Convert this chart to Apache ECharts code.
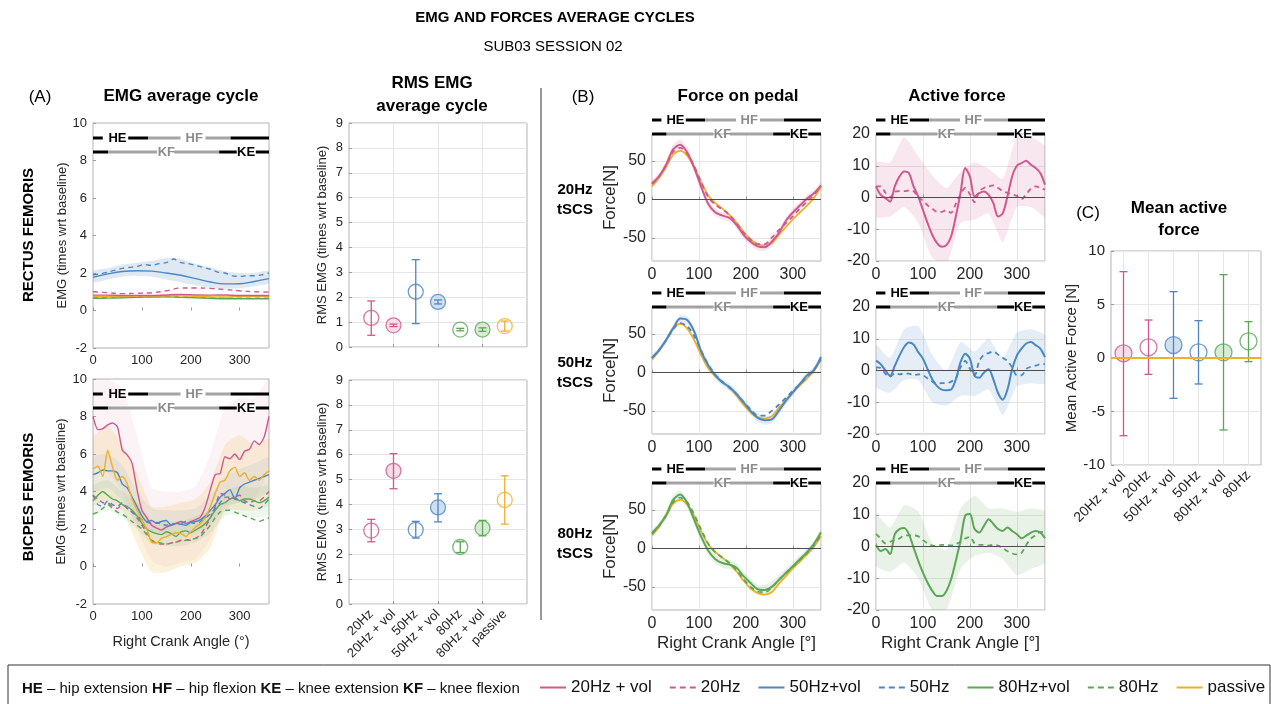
<!DOCTYPE html>
<html>
<head>
<meta charset="utf-8">
<title>EMG and forces average cycles</title>
<script src="https://cdn.jsdelivr.net/npm/echarts@6/dist/echarts.min.js"></script>
<style>html,body{margin:0;padding:0;background:#fff}#main{width:1271px;height:704px}</style>
</head>
<body>
<div id="main"></div>
<script>
// ---------- data ----------
var ANG10 = [0,10,20,30,40,50,60,70,80,90,100,110,120,130,140,150,160,170,180,190,200,210,220,230,240,250,260,270,280,290,300,310,320,330,340,350,360];
var ANG15 = [0,15,30,45,60,75,90,105,120,135,150,165,180,195,210,225,240,255,270,285,300,315,330,345,360];
var ANG30 = [0,30,60,90,120,150,180,210,240,270,300,330,360];

// rectus femoris EMG (ANG30, RF_50 on ANG15)
var RF_20VOL = [0.82,0.82,0.80,0.80,0.80,0.83,0.85,0.83,0.82,0.83,0.80,0.80,0.80];
var RF_20 = [1.00,0.95,0.90,0.92,0.95,1.05,1.20,1.20,1.18,1.12,1.05,1.00,0.98];
var RF_50VOL = [1.77,1.95,2.08,2.12,2.10,2.00,1.88,1.70,1.52,1.42,1.43,1.55,1.70];
var RF_50 = [1.90,1.95,2.05,2.15,2.25,2.30,2.35,2.45,2.40,2.50,2.55,2.75,2.55,2.50,2.40,2.30,2.20,2.05,2.00,1.85,1.82,1.85,1.85,1.90,2.00];
var RF_80VOL = [0.65,0.66,0.68,0.70,0.72,0.73,0.70,0.68,0.65,0.63,0.63,0.63,0.63];
var RF_80 = [0.68,0.70,0.70,0.72,0.75,0.75,0.73,0.70,0.68,0.66,0.65,0.66,0.66];
var RF_PASSIVE = [0.75,0.75,0.75,0.77,0.77,0.78,0.78,0.75,0.73,0.72,0.75,0.75,0.75];
var RF_50VOL_LO = [1.50,1.65,1.80,1.85,1.80,1.65,1.50,1.35,1.20,1.15,1.20,1.30,1.45];
var RF_50VOL_HI = [2.10,2.25,2.45,2.55,2.65,2.80,2.75,2.50,2.30,2.10,2.00,2.00,2.10];

// biceps femoris EMG (ANG10)
var BF_20VOL = [8.0,7.3,7.35,7.55,7.65,7.45,6.2,5.95,5.5,4.1,3.0,2.6,2.2,2.05,1.95,2.1,2.2,2.3,2.4,2.3,2.4,2.5,2.65,3.2,4.1,4.9,4.95,5.85,5.75,6.0,5.7,6.15,6.25,6.7,6.5,6.9,8.0];
var BF_20 = [3.8,3.6,3.4,3.4,3.2,3.1,3.3,3.1,2.9,2.6,2.2,1.8,1.4,1.25,1.2,1.2,1.25,1.3,1.4,1.4,1.4,1.5,1.7,2.1,2.6,3.2,3.9,3.8,3.6,3.7,3.8,3.5,3.4,3.5,3.5,3.7,4.0];
var BF_50VOL = [4.9,5.0,5.15,5.1,5.1,5.0,4.4,4.2,3.7,3.2,2.7,2.4,2.45,2.3,2.4,2.45,2.2,2.3,2.25,2.2,2.35,2.4,2.5,2.7,3.0,3.3,3.7,3.9,4.1,3.6,4.2,4.4,4.5,4.6,4.7,4.8,4.9];
var BF_50 = [3.8,3.3,3.2,3.5,3.3,3.2,3.4,3.1,2.9,2.7,2.5,2.35,2.3,2.35,2.25,2.2,2.25,2.3,2.3,2.4,2.35,2.3,2.4,2.6,2.8,3.1,3.4,3.7,3.7,3.6,3.5,3.4,3.3,3.2,3.1,3.3,3.6];
var BF_80VOL = [3.5,3.8,4.0,3.8,3.6,3.5,3.3,3.2,3.0,2.7,2.3,2.0,1.85,1.75,1.7,1.85,1.75,1.6,1.85,1.9,1.8,1.95,2.1,2.3,2.6,3.0,3.3,3.4,3.6,3.7,3.5,3.6,3.6,3.5,3.4,3.5,3.7];
var BF_80 = [2.8,2.9,3.1,3.3,3.1,2.9,2.8,2.6,2.4,2.2,2.0,1.7,1.4,1.3,1.25,1.2,1.25,1.3,1.35,1.4,1.45,1.5,1.6,1.9,2.2,2.6,2.9,3.0,3.0,2.9,2.8,2.7,2.6,2.5,2.4,2.5,2.6];
var BF_PASSIVE = [5.2,5.35,4.8,6.2,5.3,4.6,4.8,4.4,3.6,3.0,2.5,2.0,1.3,1.25,1.5,1.6,1.7,1.8,1.75,1.6,1.85,2.1,2.3,2.6,3.2,3.9,4.5,4.6,5.1,5.3,4.8,5.0,4.6,4.8,4.6,4.9,5.1];
// shaded bands (ANG30)
var BF_20VOL_LO = [5.5,5.0,4.0,2.0,0.3,0.0,0.2,0.4,1.5,3.0,3.5,3.5,5.5];
var BF_20VOL_HI = [10,10,9.5,7.0,4.2,4.0,4.0,4.3,6.0,8.5,9.0,9.0,10];
var BF_PASSIVE_LO = [3.3,3.5,3.0,1.2,-0.3,-0.3,0.0,0.2,1.0,3.0,3.0,3.0,3.3];
var BF_PASSIVE_HI = [6.8,7.5,6.5,5.0,3.2,3.2,3.4,3.6,4.5,6.5,7.0,6.5,6.8];
var BF_50VOL_LO = [4.0,4.2,3.5,2.3,1.8,1.7,1.7,1.8,2.2,3.2,3.4,3.6,4.0];
var BF_50VOL_HI = [5.8,6.0,5.4,4.0,3.1,3.0,3.0,3.1,3.8,4.8,5.2,5.5,5.8];
var BF_80VOL_LO = [2.8,3.0,2.6,2.0,1.2,1.1,1.1,1.3,1.8,2.7,2.8,2.6,2.8];
var BF_80VOL_HI = [4.3,4.6,4.0,3.4,2.5,2.4,2.4,2.7,3.0,4.0,4.3,4.2,4.3];

// RMS EMG
var RMS_LABELS = ['20Hz','20Hz + vol','50Hz','50Hz + vol','80Hz','80Hz + vol','passive'];
var RMS_POS = [1,2,3,4,5,6,7];
var RMS_RF = [1.17,0.87,2.22,1.81,0.70,0.70,0.84];
var RMS_RF_LO = [0.47,0.82,0.94,1.73,0.65,0.63,0.64];
var RMS_RF_HI = [1.85,0.92,3.51,1.89,0.75,0.77,1.04];
var RMS_BF = [2.95,5.35,2.98,3.88,2.29,3.05,4.18];
var RMS_BF_LO = [2.50,4.63,2.65,3.30,2.07,2.74,3.21];
var RMS_BF_HI = [3.40,6.04,3.32,4.43,2.50,3.36,5.15];

// force on pedal (ANG15)
var F_PASSIVE = [17,28,42,58,63,57,42,22,5,-5,-12,-20,-30,-42,-52,-58,-60,-57,-46,-36,-26,-17,-8,2,16];
var F20_VOL = [21,30,45,65,71,61,41,16,-6,-17,-21,-24,-33,-46,-55,-61,-62,-55,-44,-28,-17,-8,1,8,18];
var F20 = [20,30,44,62,67,60,43,22,3,-7,-13,-20,-31,-43,-52,-58,-58,-50,-40,-31,-22,-12,-3,6,18];
var F20_SD = [4,4,5,6,7,7,6,6,5,5,5,5,5,5,5,5,5,6,6,5,5,5,5,5,5];
var F50_VOL = [19,29,42,57,70,68,53,27,9,-4,-13,-19,-28,-39,-50,-59,-62,-61,-50,-37,-26,-15,-4,3,20];
var F50 = [19,29,42,56,64,60,47,28,10,-3,-12,-20,-28,-38,-48,-56,-56,-50,-42,-33,-24,-15,-6,4,17];
var F50_SD = [4,4,4,5,5,5,5,5,5,5,5,5,5,5,5,5,6,5,5,5,5,4,4,4,4];
var F80_VOL = [20,30,43,63,70,59,37,15,-3,-14,-19,-21,-25,-36,-45,-53,-54,-50,-41,-32,-23,-14,-5,6,21];
var F80 = [19,29,43,60,66,60,44,24,6,-5,-12,-19,-28,-40,-50,-56,-57,-51,-41,-32,-24,-15,-6,4,18];
var F80_SD = [4,4,5,6,6,6,6,6,6,6,6,6,6,6,6,6,7,7,6,6,5,5,5,4,4];

// active force (ANG10), bands on ANG30
var A20_VOL = [3.5,0.8,-0.2,-1.3,3.5,6.6,8.2,7.7,3.5,0.3,-3.9,-8.1,-11.8,-14.4,-15.5,-15.0,-12.3,-6.0,1.4,9.3,6.6,0.3,1.4,1.9,0.8,-1.8,-6.0,-5.0,0.3,6.6,10.0,10.8,11.6,10.3,9.3,7.7,4.0];
var A20 = [3.5,3.5,1.5,0,1.8,2.0,2.0,2.2,2.0,0,-1.0,-2.5,-3.5,-4.5,-4.5,-4.0,-4.8,-2.0,1.0,3.0,1.0,-1.5,2.0,3.0,3.5,3.8,3.0,2.0,1.5,1.0,0.5,-0.5,1.0,2.8,3.5,3.0,2.5];
var A20_LO = [-6,-6,-3,-8,-19,-21,-8,-7,-5,-14,-3,-3,-6];
var A20_HI = [11,11,19,13,7,3,8,11,9,6,19,19,16];
var A50_VOL = [3.1,2.0,0,-1.7,1.5,4.7,7.4,8.8,8.2,5.8,3.7,0.4,-2.8,-4.9,-6.0,-6.2,-6.0,-2.8,2.6,5.3,3.7,-1.7,-2.3,-0.6,0.4,-2.8,-7.1,-9.2,-6.0,0.4,4.7,6.9,8.5,9.0,8.0,6.9,4.2];
var A50 = [1.0,0.8,-1.0,-2.0,-0.8,-1.2,-1.0,-1.0,-1.5,-1.2,-1.5,-2.5,-3.5,-4.2,-4.0,-4.0,-3.5,-2.5,1.0,3.0,0.5,-1.5,3.0,5.0,5.5,6.0,5.0,4.0,3.0,1.0,-1.5,-1.5,0.5,1.2,1.5,2.0,2.0];
var A50_LO = [-5,-7,-3,-3,-10,-11,-8,-8,-6,-14,-5,-4,-4];
var A50_HI = [8,4,13,14,5,0,9,6,10,4,12,13,11];
var A80_VOL = [0.5,-1.4,-0.8,-2.4,3.9,5.5,5.8,3.9,-0.3,-4.5,-8.2,-11.4,-14.0,-15.6,-15.6,-14.0,-10.3,-4.5,1.8,9.7,10.2,5.5,4.4,6.5,8.6,7.1,5.5,4.9,6.0,4.9,3.9,2.6,3.4,4.4,4.9,4.4,2.6];
var A80 = [4.0,2.5,1.0,1.5,2.0,2.5,3.5,3.5,3.5,3.2,2.0,1.0,0.3,0.2,0.5,0.5,0.3,0.8,1.5,2.5,3.0,1.0,0.5,0.5,0.3,0.5,0.3,-0.5,-1.5,-2.2,-2.5,-2.0,0.5,2.5,3.5,4.5,4.5];
var A80_LO = [-6,-8,-5,-10,-20,-20,-7,-3,-2,-4,-9,-7,-5];
var A80_HI = [10,6,13,11,1,-1,12,16,12,12,11,12,11];

// mean active force
var MAF_LABELS = ['20Hz + vol','20Hz','50Hz + vol','50Hz','80Hz + vol','80Hz'];
var MAF_POS = [1,2,3,4,5,6];
var MAF = [0.44,1.00,1.21,0.53,0.53,1.56];
var MAF_LO = [-7.26,-1.53,-3.77,-2.43,-6.73,-0.34];
var MAF_HI = [8.07,3.55,6.20,3.49,7.79,3.40];
var MAF_PASSIVE = 0;

// gait phase bars (degrees)
var HIP_BLACK = [[0,20],[72,113],[281,360]];
var HIP_GRAY = [[113,179],[230,281]];
var KNEE_BLACK = [[0,31],[258,294],[333,360]];
var KNEE_GRAY = [[31,131],[166,258]];
var PHASE_LABELS = [['HE',50,1,0],['HF',207,1,1],['KF',150,0,1],['KE',313,0,0]];

var LEGEND_NAMES = ['20Hz + vol','20Hz','50Hz+vol','50Hz','80Hz+vol','80Hz','passive'];
var LEGEND_DASHED = [0,1,0,1,0,1,0];

// ---------- styling ----------
var FONT = "'Liberation Sans', Arial, Helvetica, sans-serif";
var NARROW = "'Liberation Sans Narrow', 'Liberation Sans', Arial, sans-serif";
var PINK = '#d0588b', BLUE = '#4a87c3', GREEN = '#5ca656', YELLOW = '#efb025';
var FILLS = {};
FILLS[PINK] = '#f3d6e2'; FILLS[BLUE] = '#c4d8ec'; FILLS[GREEN] = '#d0e6cd';
var DASH = [5, 4];
var ICON_SOLID = 'path://M0,0h26v2h-26z';
var ICON_DASH = 'path://M0,0h6v2h-6z M10,0h6v2h-6z M20,0h6v2h-6z';

var myChart = echarts.init(document.getElementById('main'));
var grid = [], xAxis = [], yAxis = [], series = [];

function addPanel(box, xa, ya) {
  var i = grid.length;
  box.show = true; box.borderColor = '#b3b3b3'; box.borderWidth = 1; box.backgroundColor = 'transparent';
  grid.push(box);
  xa.gridIndex = i; ya.gridIndex = i;
  xAxis.push(xa); yAxis.push(ya);
  return i;
}
function hiddenPanel(box, xa, ya) {
  var i = grid.length;
  grid.push(box);
  xa.gridIndex = i; ya.gridIndex = i;
  xAxis.push(xa); yAxis.push(ya);
  return i;
}
function mkAxis(min, max, interval, fs, showGrid, showLabel, custom) {
  var a = {type: 'value', min: min, max: max,
    axisLine: {show: false},
    axisTick: {show: true, inside: true, length: 3, lineStyle: {color: '#9a9a9a'}},
    axisLabel: {show: showLabel, color: '#262626', fontSize: fs, fontFamily: FONT, margin: 6},
    splitLine: {show: showGrid, lineStyle: {color: '#e6e6e6', width: 1}},
    nameLocation: 'middle',
    nameTextStyle: {color: '#262626', fontFamily: FONT, fontSize: 13}};
  if (interval) a.interval = interval;
  if (custom) { a.axisLabel.customValues = custom; a.axisTick.customValues = custom; }
  return a;
}
function angleAxis(fs, showGrid) {
  var a = mkAxis(0, 360, 100, fs, showGrid, true);
  a.axisLabel.showMaxLabel = false;
  return a;
}
function pairs(xs, ys) { return xs.map(function (x, i) { return [x, ys[i]]; }); }

function addLine(p, xs, ys, color, dashed, width, name, smooth) {
  var s = {type: 'line', xAxisIndex: p, yAxisIndex: p, data: pairs(xs, ys), symbol: 'none',
    smooth: smooth || 0, silent: true, z: 3,
    lineStyle: {color: color, width: width, type: dashed ? DASH : 'solid'},
    itemStyle: {color: color}};
  if (name) s.name = name;
  series.push(s);
  return s;
}
// shaded band between lo and hi, drawn as one polygon through the axis scales
function addBand(p, xs, lo, hi, color, opacity) {
  series.push({type: 'custom', xAxisIndex: p, yAxisIndex: p, silent: true, clip: true, z: 1,
    data: xs.map(function (x, i) { return [x, lo[i], hi[i]]; }),
    renderItem: function (params, api) {
      if (params.dataIndex !== 0) return null;
      var pts = [];
      for (var i = 0; i < xs.length; i++) pts.push(api.coord([xs[i], hi[i]]));
      for (var j = xs.length - 1; j >= 0; j--) pts.push(api.coord([xs[j], lo[j]]));
      return {type: 'polygon', shape: {points: pts, smooth: 0.2}, style: {fill: color, opacity: opacity}};
    }});
}
function zeroLine(s) {
  s.markLine = {silent: true, symbol: 'none', label: {show: false}, animation: false,
    lineStyle: {color: '#4d4d4d', width: 1.2, type: 'solid'}, data: [{yAxis: 0}]};
}

// phase bars: own hidden panel whose y=0 is the lower row and y=1 the upper row
var PHASE_SEGS = [];
HIP_BLACK.forEach(function (s) { PHASE_SEGS.push([s[0], s[1], 1, 0]); });
HIP_GRAY.forEach(function (s) { PHASE_SEGS.push([s[0], s[1], 1, 1]); });
KNEE_BLACK.forEach(function (s) { PHASE_SEGS.push([s[0], s[1], 0, 0]); });
KNEE_GRAY.forEach(function (s) { PHASE_SEGS.push([s[0], s[1], 0, 1]); });

function phaseBars(left, width, rowY) {
  var p = hiddenPanel({left: left, top: rowY - 14, width: width, height: 14},
    {type: 'value', min: 0, max: 360, show: false}, {type: 'value', min: 0, max: 1, show: false});
  series.push({type: 'custom', xAxisIndex: p, yAxisIndex: p, silent: true, clip: false, z: 6,
    data: PHASE_SEGS,
    renderItem: function (params, api) {
      var a = api.coord([api.value(0), api.value(2)]);
      var b = api.coord([api.value(1), api.value(2)]);
      return {type: 'line', shape: {x1: a[0], y1: a[1], x2: b[0], y2: b[1]},
        style: {stroke: api.value(3) ? '#a3a3a3' : '#000', lineWidth: 3}};
    }});
  series.push({type: 'custom', xAxisIndex: p, yAxisIndex: p, silent: true, clip: false, z: 6,
    data: PHASE_LABELS.map(function (l) { return [l[1], l[2], l[3]]; }),
    renderItem: function (params, api) {
      var c = api.coord([api.value(0), api.value(1)]);
      return {type: 'text', style: {text: PHASE_LABELS[params.dataIndex][0], x: c[0], y: c[1] + 0.5,
        textAlign: 'center', textVerticalAlign: 'middle', font: 'bold 13px ' + FONT,
        fill: api.value(2) ? '#8c8c8c' : '#000'}};
    }});
}

function markers(p, xs, ys, colors, filled, size) {
  series.push({type: 'scatter', xAxisIndex: p, yAxisIndex: p, symbol: 'circle', symbolSize: size, silent: true, z: 3,
    data: xs.map(function (x, i) {
      return {value: [x, ys[i]], itemStyle: {color: filled[i] ? FILLS[colors[i]] : 'rgba(255,255,255,0)',
        borderColor: colors[i], borderWidth: 1.3}};
    })});
  return series[series.length - 1];
}
function errBars(p, xs, lo, hi, colors) {
  series.push({type: 'custom', xAxisIndex: p, yAxisIndex: p, silent: true, z: 4,
    data: xs.map(function (x, i) { return [x, lo[i], hi[i]]; }),
    renderItem: function (params, api) {
      var x = api.value(0);
      var a = api.coord([x, api.value(1)]), b = api.coord([x, api.value(2)]);
      var c = colors[params.dataIndex], w = 4;
      var st = {stroke: c, lineWidth: 1.3};
      return {type: 'group', children: [
        {type: 'line', shape: {x1: a[0], y1: a[1], x2: b[0], y2: b[1]}, style: st},
        {type: 'line', shape: {x1: a[0] - w, y1: a[1], x2: a[0] + w, y2: a[1]}, style: st},
        {type: 'line', shape: {x1: b[0] - w, y1: b[1], x2: b[0] + w, y2: b[1]}, style: st}]};
    }});
}

// ---------- (A) EMG average cycle ----------
var yRF = mkAxis(-2, 10, 2, 13, false, true);
yRF.name = 'EMG (times wrt baseline)'; yRF.nameGap = 12;
var pRF = addPanel({left: 93, top: 123, width: 176, height: 225}, angleAxis(13, false), yRF);
addBand(pRF, ANG30, RF_50VOL_LO, RF_50VOL_HI, BLUE, 0.18);
addLine(pRF, ANG30, RF_80VOL, GREEN, false, 1.4, null, 0.4);
addLine(pRF, ANG30, RF_80, GREEN, true, 1.4, null, 0.4);
addLine(pRF, ANG30, RF_PASSIVE, YELLOW, false, 1.4, null, 0.4);
addLine(pRF, ANG30, RF_20VOL, PINK, false, 1.4, null, 0.4);
addLine(pRF, ANG30, RF_20, PINK, true, 1.4, null, 0.4);
addLine(pRF, ANG30, RF_50VOL, BLUE, false, 1.4, null, 0.4);
addLine(pRF, ANG15, RF_50, BLUE, true, 1.4, null, 0.3);
phaseBars(93, 176, 152);

var xBF = angleAxis(13, false);
xBF.name = 'Right Crank Angle (°)'; xBF.nameGap = 30; xBF.nameTextStyle = {color: '#262626', fontFamily: FONT, fontSize: 14.5};
var yBF = mkAxis(-2, 10, 2, 13, false, true);
yBF.name = 'EMG (times wrt baseline)'; yBF.nameGap = 25;
var pBF = addPanel({left: 93, top: 379, width: 176, height: 225}, xBF, yBF);
addBand(pBF, ANG30, BF_20VOL_LO, BF_20VOL_HI, PINK, 0.07);
addBand(pBF, ANG30, BF_PASSIVE_LO, BF_PASSIVE_HI, YELLOW, 0.16);
addBand(pBF, ANG30, BF_50VOL_LO, BF_50VOL_HI, BLUE, 0.09);
addBand(pBF, ANG30, BF_80VOL_LO, BF_80VOL_HI, GREEN, 0.10);
addLine(pBF, ANG10, BF_20VOL, PINK, false, 1.4, '20Hz + vol', 0.2);
addLine(pBF, ANG10, BF_20, PINK, true, 1.4, '20Hz', 0.2);
addLine(pBF, ANG10, BF_50VOL, BLUE, false, 1.4, '50Hz+vol', 0.2);
addLine(pBF, ANG10, BF_50, BLUE, true, 1.4, '50Hz', 0.2);
addLine(pBF, ANG10, BF_80VOL, GREEN, false, 1.4, '80Hz+vol', 0.2);
addLine(pBF, ANG10, BF_80, GREEN, true, 1.4, '80Hz', 0.2);
addLine(pBF, ANG10, BF_PASSIVE, YELLOW, false, 1.4, 'passive', 0.2);
phaseBars(93, 176, 408);

// ---------- RMS EMG ----------
var RMS_COLORS = [PINK, PINK, BLUE, BLUE, GREEN, GREEN, YELLOW];
var RMS_FILLED = [0, 1, 0, 1, 0, 1, 0];
function rmsX(showLabel) {
  var a = mkAxis(0, 8, null, 13, true, showLabel);
  a.axisTick.customValues = [2, 4, 6];
  a.axisLabel.customValues = RMS_POS;
  a.axisLabel.rotate = 45;
  a.axisLabel.margin = 8;
  a.axisLabel.formatter = function (v) { return RMS_LABELS[Math.round(v) - 1]; };
  return a;
}
var yR1 = mkAxis(0, 9, 1, 13, true, true);
yR1.name = 'RMS EMG (times wrt baseline)'; yR1.nameGap = 20;
var pR1 = addPanel({left: 349, top: 123, width: 178, height: 224}, rmsX(false), yR1);
markers(pR1, RMS_POS, RMS_RF, RMS_COLORS, RMS_FILLED, 15);
errBars(pR1, RMS_POS, RMS_RF_LO, RMS_RF_HI, RMS_COLORS);

var yR2 = mkAxis(0, 9, 1, 13, true, true);
yR2.name = 'RMS EMG (times wrt baseline)'; yR2.nameGap = 20;
var pR2 = addPanel({left: 349, top: 380, width: 178, height: 224}, rmsX(true), yR2);
markers(pR2, RMS_POS, RMS_BF, RMS_COLORS, RMS_FILLED, 15);
errBars(pR2, RMS_POS, RMS_BF_LO, RMS_BF_HI, RMS_COLORS);

// ---------- (B) forces ----------
var FORCE_TOPS = [134, 307, 483];
var ROWS = [
  {c: PINK, vol: F20_VOL, off: F20, sd: F20_SD, avol: A20_VOL, aoff: A20, lo: A20_LO, hi: A20_HI},
  {c: BLUE, vol: F50_VOL, off: F50, sd: F50_SD, avol: A50_VOL, aoff: A50, lo: A50_LO, hi: A50_HI},
  {c: GREEN, vol: F80_VOL, off: F80, sd: F80_SD, avol: A80_VOL, aoff: A80, lo: A80_LO, hi: A80_HI}
];
ROWS.forEach(function (r, k) {
  var top = FORCE_TOPS[k], last = (k === 2);
  var xf = angleAxis(16, true);
  var xa = angleAxis(16, true);
  if (last) {
    xf.name = 'Right Crank Angle [°]'; xf.nameGap = 25; xf.nameTextStyle = {color: '#262626', fontFamily: FONT, fontSize: 17};
    xa.name = 'Right Crank Angle [°]'; xa.nameGap = 25; xa.nameTextStyle = {color: '#262626', fontFamily: FONT, fontSize: 17};
  }
  var yf = mkAxis(-80, 85, null, 16, true, true, [-50, 0, 50]);
  yf.name = 'Force[N]'; yf.nameGap = 22; yf.nameTextStyle = {color: '#262626', fontFamily: FONT, fontSize: 17};
  var pf = addPanel({left: 652, top: top, width: 169, height: 127}, xf, yf);
  addBand(pf, ANG15, r.vol.map(function (v, i) { return v - r.sd[i]; }), r.vol.map(function (v, i) { return v + r.sd[i]; }), r.c, 0.15);
  var z = addLine(pf, ANG15, F_PASSIVE, YELLOW, false, 1.8, null, 0.3);
  zeroLine(z);
  addLine(pf, ANG15, r.off, r.c, true, 1.8, null, 0.3);
  addLine(pf, ANG15, r.vol, r.c, false, 2, null, 0.3);
  phaseBars(652, 169, top);

  var ya = mkAxis(-20, 20, 10, 16, true, true);
  var pa = addPanel({left: 876, top: top, width: 169, height: 127}, xa, ya);
  addBand(pa, ANG30, r.lo, r.hi, r.c, 0.14);
  var z2 = addLine(pa, ANG10, r.aoff, r.c, true, 1.8, null, 0.3);
  zeroLine(z2);
  addLine(pa, ANG10, r.avol, r.c, false, 2, null, 0.3);
  phaseBars(876, 169, top);
});

// ---------- (C) mean active force ----------
var MAF_COLORS = [PINK, PINK, BLUE, BLUE, GREEN, GREEN];
var MAF_FILLED = [1, 0, 1, 0, 1, 0];
var xM = mkAxis(0.5, 6.5, null, 14, true, true, MAF_POS);
xM.axisLabel.rotate = 45; xM.axisLabel.margin = 8;
xM.axisLabel.formatter = function (v) { return MAF_LABELS[Math.round(v) - 1]; };
var yM = mkAxis(-10, 10, 5, 15, true, true);
yM.name = 'Mean Active Force [N]'; yM.nameGap = 18; yM.nameTextStyle = {color: '#262626', fontFamily: FONT, fontSize: 15};
var pM = addPanel({left: 1111, top: 251, width: 150, height: 214}, xM, yM);
var ms = markers(pM, MAF_POS, MAF, MAF_COLORS, MAF_FILLED, 17);
ms.markLine = {silent: true, symbol: 'none', label: {show: false}, animation: false,
  lineStyle: {color: YELLOW, width: 2.2, type: 'solid'}, data: [{yAxis: MAF_PASSIVE}]};
errBars(pM, MAF_POS, MAF_LO, MAF_HI, MAF_COLORS);

// ---------- texts ----------
function txt(t, x, y, font, opts) {
  var e = {type: 'text', x: x, y: y, silent: true,
    style: {text: t, font: font, fill: '#000', textAlign: 'center', textVerticalAlign: 'middle'}};
  if (opts && opts.rot) e.rotation = Math.PI / 2;
  return e;
}
var B17 = 'bold 17px ' + FONT, R17 = '17px ' + FONT, B15 = 'bold 15px ' + FONT;
var graphics = [
  txt('EMG AND FORCES AVERAGE CYCLES', 555, 18, 'bold 15px ' + FONT),
  txt('SUB03 SESSION 02', 553, 47, '15px ' + FONT),
  txt('(A)', 40, 97, R17),
  txt('EMG average cycle', 181, 96, B17),
  txt('RMS EMG', 432, 83, B17),
  txt('average cycle', 432, 106, B17),
  txt('(B)', 583, 97, R17),
  txt('Force on pedal', 738, 96, B17),
  txt('Active force', 957, 96, B17),
  txt('(C)', 1088, 213, R17),
  txt('Mean active', 1179, 208, B17),
  txt('force', 1179, 230, B17),
  txt('RECTUS FEMORIS', 29, 235, B15, {rot: true}),
  txt('BICPES FEMORIS', 29, 497, B15, {rot: true}),
  txt('20Hz', 575, 190, B15), txt('tSCS', 575, 210, B15),
  txt('50Hz', 575, 363, B15), txt('tSCS', 575, 383, B15),
  txt('80Hz', 575, 534, B15), txt('tSCS', 575, 554, B15),
  {type: 'line', silent: true, shape: {x1: 541, y1: 88, x2: 541, y2: 620}, style: {stroke: '#333', lineWidth: 1}},
  {type: 'rect', silent: true, shape: {x: 8, y: 665, width: 1262, height: 50}, style: {fill: 'none', stroke: '#333', lineWidth: 1}},
  {type: 'text', x: 22, y: 689, silent: true, style: {
    text: '{b|HE} – hip extension {b|HF} – hip flexion {b|KE} – knee extension {b|KF} – knee flexion',
    font: '15px ' + NARROW, fill: '#111', textAlign: 'left', textVerticalAlign: 'middle',
    rich: {b: {fontWeight: 'bold', fontSize: 15, fontFamily: NARROW, fill: '#111'}}}}
];

var option = {
  animation: false,
  backgroundColor: '#fff',
  grid: grid, xAxis: xAxis, yAxis: yAxis, series: series,
  legend: {
    data: LEGEND_NAMES.map(function (n, i) { return {name: n, icon: LEGEND_DASHED[i] ? ICON_DASH : ICON_SOLID}; }),
    left: 540, top: 679, padding: 0, itemWidth: 26, itemHeight: 2, itemGap: 18,
    selectedMode: false, textStyle: {fontSize: 17, fontFamily: NARROW, color: '#111'}},
  graphic: graphics
};
myChart.setOption(option);
</script>
</body>
</html>
